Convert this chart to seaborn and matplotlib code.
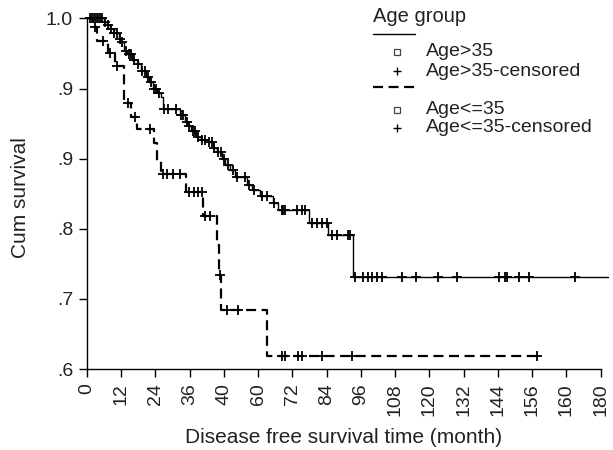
import numpy as np
import pandas as pd
import seaborn as sns
import matplotlib.pyplot as plt
from matplotlib.lines import Line2D

# Kaplan-Meier steps (event time in months, survival after the step)
gt35_time = [0, 5.8, 7.0, 8.2, 9.4, 11.1, 11.7, 12.9, 14.1, 15.9, 17.7, 18.8, 20.6, 21.8, 23.0,
             24.7, 25.9, 26.5, 32.5, 34.2, 35.4, 36.6, 38.3, 40.1, 42.5, 44.3, 45.5, 47.2, 48.4,
             50.2, 51.9, 56.0, 57.7, 60.6, 65.3, 67.1, 77.9, 84.6, 93.3, 182.5]
gt35_surv = [1.0, .996, .992, .988, .983, .977, .973, .963, .959, .952, .948, .940, .933, .927, .919,
             .915, .910, .897, .890, .882, .877, .871, .865, .861, .859, .852, .848, .840, .833,
             .827, .819, .810, .804, .797, .789, .781, .767, .753, .705, .705]
gt35_cens = [1.1, 1.8, 2.5, 3.2, 3.9, 4.6, 5.3, 6.3, 7.4, 8.5, 9.6, 10.5, 11.4, 12.2, 13.5, 14.6,
             15.5, 16.6, 18.0, 19.2, 20.2, 21.2, 22.3, 23.5, 24.3, 25.3, 27.1, 28.3, 31.3, 32.8,
             33.8, 34.9, 35.9, 37.0, 38.0, 39.0, 40.3, 41.2, 42.8, 43.7, 44.6, 45.8, 46.8, 48.1,
             49.5, 51.0, 52.5, 55.4, 56.9, 58.4, 61.2, 62.9, 65.5, 68.2, 68.8, 69.4, 73.5, 75.3,
             76.4, 78.8, 80.5, 82.3, 84.0, 85.8, 87.5, 91.6, 92.2, 94.0, 96.8, 98.5, 99.9, 101.6,
             103.4, 110.4, 115.3, 123.0, 129.7, 144.2, 146.5, 147.3, 151.2, 155.0, 171.0]

le35_time = [0, 2.1, 3.6, 7.5, 9.8, 13.0, 15.3, 17.6, 23.5, 24.6, 25.9, 34.7, 40.7, 45.5, 46.3,
             47.0, 63.2, 157.6]
le35_surv = [1.0, .990, .974, .961, .946, .904, .888, .874, .858, .837, .822, .802, .774, .741, .707,
             .667, .615, .615]
le35_cens = [2.8, 5.7, 8.1, 10.4, 14.5, 16.8, 22.1, 26.7, 28.1, 30.2, 32.6, 35.9, 37.5, 39.0, 40.3,
             41.4, 43.1, 46.6, 49.0, 53.0, 68.2, 69.4, 74.1, 75.3, 82.3, 93.0, 157.6]

x_ticks = list(range(0, 181, 12))
x_labels = ["0", "12", "24", "36", "40", "60", "72", "84", "96", "108", "120", "132", "144",
            "156", "160", "180"]
y_labels = [".6", ".7", ".8", ".9", ".9", "1.0"]


def censor_frame(times, steps, surv):
    idx = np.searchsorted(steps, times, side="right") - 1
    return pd.DataFrame({"t": times, "s": np.asarray(surv)[idx]})


sns.set_theme(style="ticks")
plt.rcParams["font.family"] = ["Liberation Sans", "DejaVu Sans"]
ink = "#222222"

fig = plt.figure(figsize=(6.13, 4.5), dpi=100)
ax = fig.add_axes([87 / 613, 1 - 369 / 450, 513.7 / 613, 350.6 / 450])

gt = pd.DataFrame({"t": gt35_time, "s": gt35_surv})
le = pd.DataFrame({"t": le35_time, "s": le35_surv})
sns.lineplot(data=gt, x="t", y="s", ax=ax, color="black", lw=1.0, drawstyle="steps-post",
             estimator=None, sort=False, clip_on=False)
sns.lineplot(data=le, x="t", y="s", ax=ax, color="black", lw=1.6, drawstyle="steps-post",
             estimator=None, sort=False, linestyle=(0, (4.5, 2.5)))

for times, steps, surv in [(gt35_cens, gt35_time, gt35_surv), (le35_cens, le35_time, le35_surv)]:
    cf = censor_frame(times, steps, surv)
    sns.scatterplot(data=cf, x="t", y="s", ax=ax, marker="+", s=55, color="black",
                    linewidth=1.3, zorder=3, clip_on=False)

ax.set_xlim(0, 180)
ax.set_ylim(0.6, 1.0)
ax.set_xticks(x_ticks)
ax.set_xticklabels(x_labels, rotation=90, fontsize=14, color=ink)
ax.set_yticks(np.linspace(0.6, 1.0, 6))
ax.set_yticklabels(y_labels, fontsize=14, color=ink)
ax.tick_params(axis="both", length=6, width=1, color="black", pad=4)
for side in ["top", "right"]:
    ax.spines[side].set_visible(False)
for side in ["left", "bottom"]:
    ax.spines[side].set_color("black")
    ax.spines[side].set_linewidth(1)

ax.set_xlabel("Disease free survival time (month)", fontsize=15, color=ink, va="center")
ax.set_ylabel("Cum survival", fontsize=15, color=ink, va="center")
ax.xaxis.set_label_coords(0.5, -0.194)
ax.yaxis.set_label_coords(-0.130, 0.49)


# legend drawn by hand, positions in figure pixels
def fp(x, y):
    return x / 613, 1 - y / 450


fig.text(*fp(373, 17), "Age group", fontsize=14.5, color=ink, va="center", ha="left")
fig.add_artist(Line2D([373 / 613, 415 / 613], [1 - 34 / 450] * 2, color="black", lw=1.0))
fig.add_artist(Line2D([373 / 613, 415 / 613], [1 - 87 / 450] * 2, color="black", lw=1.6,
                      linestyle=(0, (4.5, 2.5))))
rows = [(52, "s", "Age>35"), (71, "+", "Age>35-censored"),
        (110, "s", "Age<=35"), (128, "+", "Age<=35-censored")]
for y, mk, label in rows:
    x0, y0 = fp(397, y)
    if mk == "s":
        fig.add_artist(Line2D([x0], [y0], marker="s", ms=4.5, mfc="white", mec="#444444",
                              mew=0.9, linestyle="none"))
    else:
        fig.add_artist(Line2D([x0], [y0], marker="+", ms=6, mec="black", mew=1.0,
                              linestyle="none"))
    fig.text(*fp(426, y), label, fontsize=14, color=ink, va="center", ha="left")

fig.savefig("out.png", dpi=100)
